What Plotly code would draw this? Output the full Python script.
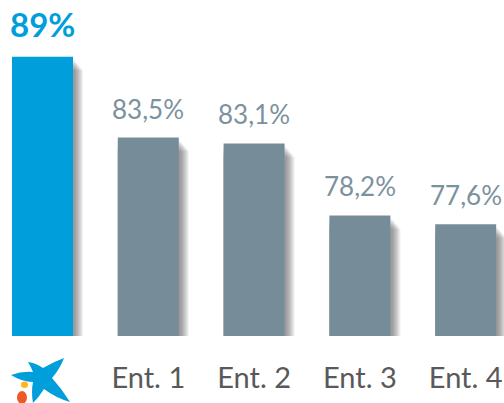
import plotly.graph_objects as go

categories = ["", "Ent. 1", "Ent. 2", "Ent. 3", "Ent. 4"]
values = [89, 83.5, 83.1, 78.2, 77.6]
value_labels = ["89%", "83,5%", "83,1%", "78,2%", "77,6%"]
bar_colors = ["#009EDB", "#768C99", "#768C99", "#768C99", "#768C99"]
label_colors = ["#009EDB", "#7C919E", "#7C919E", "#7C919E", "#7C919E"]

WIDTH, HEIGHT = 504, 403
PLOT_H = 336
PX_PER_UNIT = 14.7
PX_PER_CAT = 105.8
FIRST_CENTER = 42.5
BASE = 70
BAR_W = 61 / PX_PER_CAT

positions = list(range(len(values)))
fig = go.Figure()

# Soft drop shadow built from stacked translucent bars, widest first
for step in range(9, 0, -1):
    dx = (step + 1) / PX_PER_CAT
    dy = (step + 1) * 0.5 / PX_PER_UNIT
    fig.add_bar(
        x=[p + dx / 2 for p in positions],
        y=[v - BASE - (2 + step * 0.7) / PX_PER_UNIT for v in values],
        base=[BASE - dy] * len(values),
        width=BAR_W + dx,
        marker=dict(color="rgba(60,60,60,0.07)", line_width=0),
        hoverinfo="skip",
        cliponaxis=False,
        showlegend=False,
    )

fig.add_bar(
    x=positions,
    y=[v - BASE for v in values],
    base=[BASE] * len(values),
    width=BAR_W,
    marker=dict(color=bar_colors, line_width=0),
    cliponaxis=False,
    showlegend=False,
)

# Value labels above each bar
for i, (p, v) in enumerate(zip(positions, values)):
    fig.add_annotation(
        x=p, y=v, text=value_labels[i], showarrow=False,
        yanchor="bottom", yshift=11,
        font=dict(family="Lato", size=33 if i == 0 else 26,
                  color=label_colors[i],
                  weight="bold" if i == 0 else "normal"),
    )

def px(x):
    return x / WIDTH

def py(y):
    return (PLOT_H - y) / PLOT_H

def pt(x, y):
    return f"{px(x):.4f},{py(y):.4f}"

# Brand mark: blue star with two dots, drawn in the space under the first bar
star = (
    f"M {pt(11,375)} Q {pt(22,371)} {pt(33,372)} "
    f"Q {pt(31,367)} {pt(28,362)} Q {pt(36,363)} {pt(43,368)} "
    f"Q {pt(53,362)} {pt(64,358)} Q {pt(60,369)} {pt(52,378)} "
    f"Q {pt(62,389)} {pt(70,402)} Q {pt(56,398)} {pt(44,389)} "
    f"Q {pt(39,397)} {pt(33,403)} Q {pt(31,392)} {pt(33,382)} "
    f"Q {pt(22,382)} {pt(11,375)} Z"
)
shapes = [
    dict(type="path", path=star, xref="paper", yref="paper",
         fillcolor="#009EDB", line_width=0),
    dict(type="circle", xref="paper", yref="paper",
         x0=px(21), x1=px(28), y0=py(388), y1=py(381.5),
         fillcolor="#FFB81C", line_width=0),
    dict(type="circle", xref="paper", yref="paper",
         x0=px(17), x1=px(27), y0=py(404), y1=py(391),
         fillcolor="#EE5A24", line_width=0),
]

fig.update_layout(
    width=WIDTH, height=HEIGHT,
    margin=dict(l=0, r=0, t=0, b=HEIGHT - PLOT_H),
    paper_bgcolor="white", plot_bgcolor="white",
    barmode="overlay",
    shapes=shapes,
    xaxis=dict(
        range=[-FIRST_CENTER / PX_PER_CAT, (WIDTH - FIRST_CENTER) / PX_PER_CAT],
        tickmode="array", tickvals=positions, ticktext=categories,
        tickfont=dict(family="Lato", size=29, color="#595959"),
        ticks="", showgrid=False, zeroline=False, showline=False, ticklabelstandoff=22,
    ),
    yaxis=dict(
        range=[BASE, BASE + PLOT_H / PX_PER_UNIT],
        visible=False, showgrid=False, zeroline=False,
    ),
)

fig.write_html("out.html", config=dict(displayModeBar=False))
